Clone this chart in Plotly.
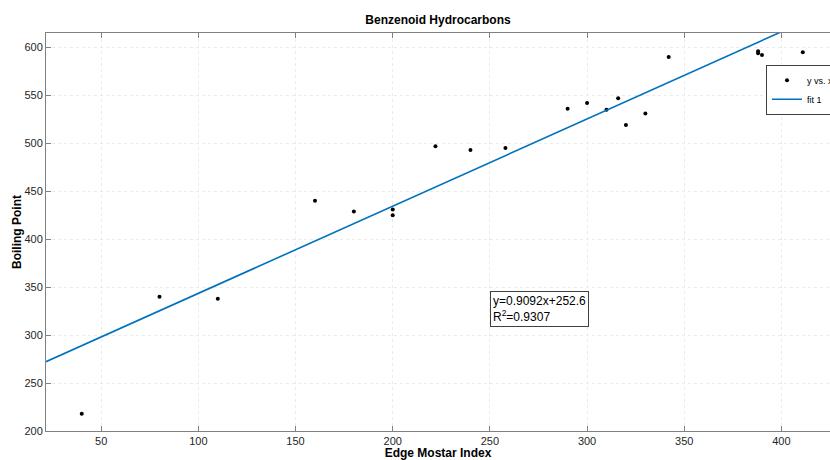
import plotly.graph_objects as go

# Data
edge_mostar = [40, 80, 110, 160, 180, 200, 200, 222, 240, 258, 290, 300, 310, 316, 320, 330, 342, 388, 388, 390, 411]
boiling_pt = [218, 340, 338, 440, 429, 431, 425, 497, 493, 495, 536, 542, 535, 547, 519, 531, 590, 596, 594, 592, 595]
fit_slope = 0.9092
fit_intercept = 252.6
r_squared = 0.9307

x_range = [21.6, 425.0]
y_range = [200, 615]
x_ticks = [50, 100, 150, 200, 250, 300, 350, 400]
y_ticks = [200, 250, 300, 350, 400, 450, 500, 550, 600]

FONT = "Liberation Sans, Arial, Helvetica, sans-serif"
AXIS_COLOR = "#808080"
TEXT_COLOR = "#262626"

fit_x = list(x_range)
fit_y = [fit_slope * v + fit_intercept for v in fit_x]

fig = go.Figure()
fig.add_trace(go.Scatter(
    x=edge_mostar, y=boiling_pt, mode="markers", name="y vs. x",
    marker=dict(color="black", size=4),
))
fig.add_trace(go.Scatter(
    x=fit_x, y=fit_y, mode="lines", name="fit 1",
    line=dict(color="#0072BD", width=1.6),
))

fig.update_layout(
    width=830, height=460,
    margin=dict(l=46, r=0, t=33, b=29, autoexpand=False),
    paper_bgcolor="white", plot_bgcolor="white",
    font=dict(family=FONT, color=TEXT_COLOR, size=11),
    title=dict(text="<b>Benzenoid Hydrocarbons</b>", x=(46 + 830) / 2 / 830, xanchor="center",
               y=1 - 20 / 460, yanchor="middle", yref="container",
               font=dict(size=12, color="black", family=FONT)),
    showlegend=True,
    legend=dict(x=(766 - 46) / 784, y=(431 - 64.7) / 398, xanchor="left", yanchor="top",
                bgcolor="white", bordercolor="#404040", borderwidth=1,
                font=dict(size=9, color="black", family=FONT),
                tracegroupgap=0, itemwidth=30),
)

fig.update_xaxes(
    range=x_range, tickvals=x_ticks, ticks="inside", ticklen=5, tickcolor=AXIS_COLOR,
    showline=True, linecolor=AXIS_COLOR, linewidth=1, mirror="ticks",
    showgrid=True, gridcolor="#ebebeb", griddash="dot", gridwidth=1, zeroline=False,
    tickfont=dict(size=11, color=TEXT_COLOR),
    title=dict(text="<b>Edge Mostar Index</b>", font=dict(size=12, color="black"), standoff=0),
    automargin=False,
)
fig.update_yaxes(
    range=y_range, tickvals=y_ticks, ticks="inside", ticklen=5, tickcolor=AXIS_COLOR,
    showline=True, linecolor=AXIS_COLOR, linewidth=1,
    showgrid=True, gridcolor="#ebebeb", griddash="dot", gridwidth=1, zeroline=False,
    tickfont=dict(size=11, color=TEXT_COLOR),
    title=dict(text="<b>Boiling Point</b>", font=dict(size=12, color="black"), standoff=0),
    automargin=False,
)

fig.add_annotation(
    xref="paper", yref="paper",
    x=(490 - 46) / 784, y=(431 - 291) / 398, xanchor="left", yanchor="top",
    text=f"y={fit_slope}x+{fit_intercept}<br>R<sup>2</sup>={r_squared}",
    align="left", showarrow=False,
    font=dict(size=12, color="black", family=FONT),
    bgcolor="white", bordercolor="#404040", borderwidth=1, borderpad=2,
)

fig.write_html("out.html", config={"displayModeBar": False},
               post_script="document.body.style.margin='0';")
